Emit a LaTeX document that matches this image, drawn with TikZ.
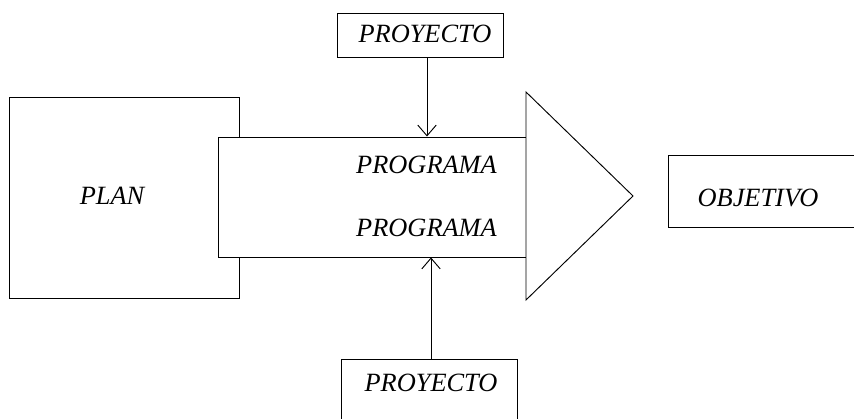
\documentclass[tikz,border=0pt]{standalone}
\usepackage{fontspec}
\setmainfont{Liberation Serif}
\usetikzlibrary{arrows.meta, positioning}

\begin{document}
\begin{tikzpicture}[
	box/.style={draw, fill=white, line width=0.8pt, inner sep=0pt},
	txt/.style={font=\fontsize{22.5}{26}\selectfont\itshape, inner sep=0pt},
	feed/.style={line width=0.8pt, -{Straight Barb[length=0.32cm, width=0.55cm, line width=0.8pt]}}
	]
	\useasboundingbox (0,0) rectangle (25.62,12.57);
	\clip (0,0) rectangle (25.62,12.57);
	% Plan
	\node[box, minimum width=6.9cm, minimum height=6.03cm] (plan) at (3.72,6.645) {};
	\node[txt] (plantxt) at (3.36,6.69) {PLAN};
	% Programs
	\node[box, minimum width=9.24cm, minimum height=3.6cm] (prog) at (11.16,6.66) {};
	\draw[line width=0.8pt, fill=white] (15.78,9.81) -- (18.99,6.69) -- (15.78,3.57) -- cycle;
	\node[txt, anchor=east] (progA) at (14.91,7.62) {PROGRAMA};
	\node[txt, anchor=east] (progB) at (14.91,5.73) {PROGRAMA};
	% Objective
	\node[box, minimum width=6.06cm, minimum height=2.16cm] (obj) at (23.07,6.84) {};
	\node[txt] (objtxt) at (22.74,6.63) {OBJETIVO};
	% Projects
	\node[box, minimum width=4.98cm, minimum height=1.32cm] (proyA) at (12.6,11.52) {};
	\node[txt] (proyAtxt) at (12.75,11.55) {PROYECTO};
	\node[box, anchor=north, minimum width=5.28cm, minimum height=2.4cm] (proyB) at (12.87,1.8) {};
	\node[txt] (proyBtxt) at (12.93,1.08) {PROYECTO};
	\draw[feed] ([xshift=0.21cm]proyA.south) -- ([xshift=0.21cm]proyA.south |- prog.north);
	\draw[feed] ([xshift=0.06cm]proyB.north) -- ([xshift=0.06cm]proyB.north |- prog.south);
\end{tikzpicture}
\end{document}
